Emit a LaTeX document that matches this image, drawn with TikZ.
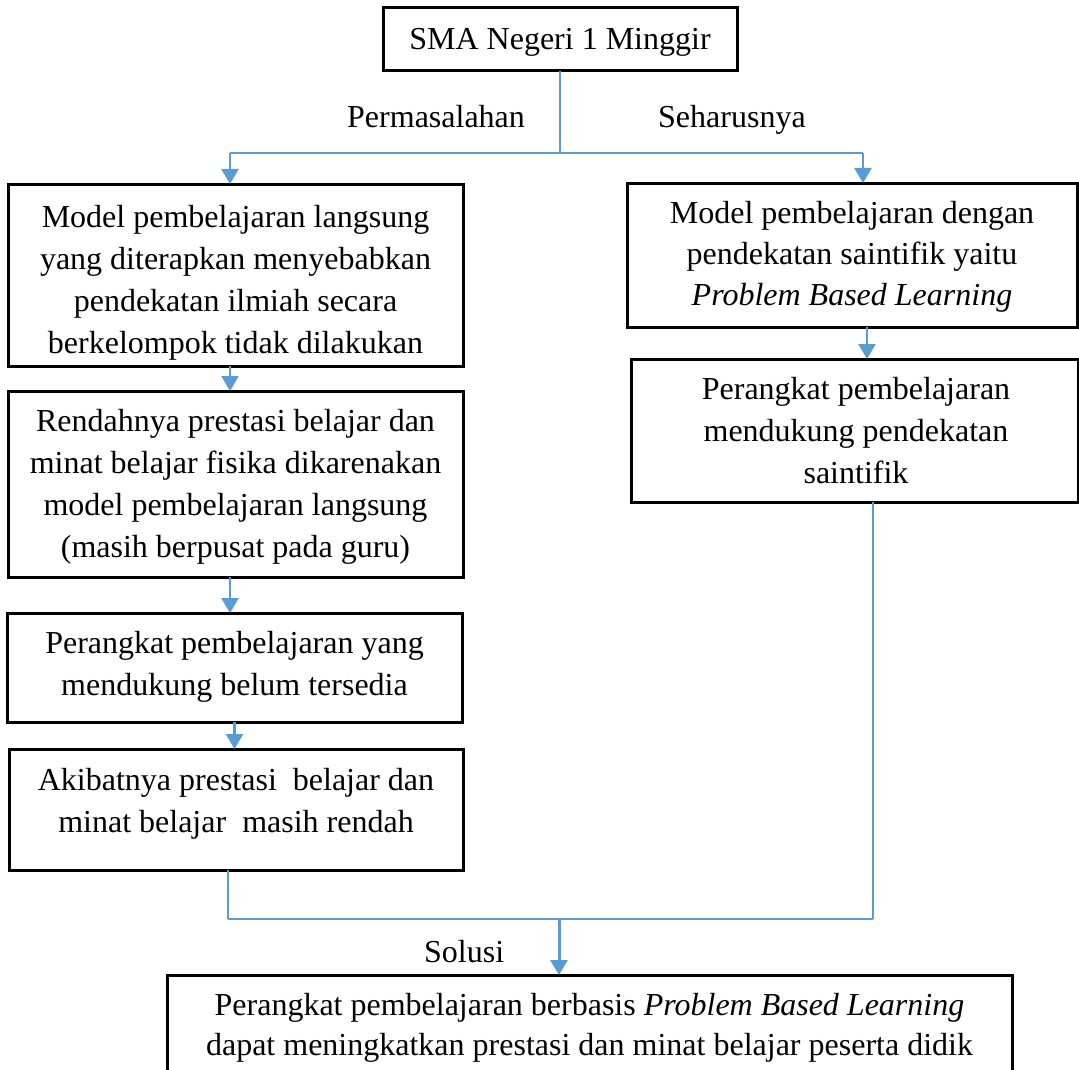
\documentclass[tikz,border=0pt]{standalone}
\usepackage{fontspec}
\setmainfont{Liberation Serif}
\usetikzlibrary{arrows.meta,calc}
\definecolor{conn}{HTML}{5B9BD5}
\begin{document}
\begin{tikzpicture}[x=1pt,y=-1pt,
  box/.style={draw=black,line width=3pt,inner sep=0pt,outer sep=0pt,anchor=north west},
  txt/.style={inner sep=0pt,align=center,anchor=base,font=\fontsize{32}{42}\selectfont},
  thinline/.style={draw=conn,line width=1.4pt},
  arr/.style={draw=conn,line width=2.6pt,-{Triangle[length=15pt,width=17pt]}},
  lbl/.style={inner sep=0pt,anchor=base west,font=\fontsize{32}{42}\selectfont}]
\useasboundingbox (0,0) rectangle (1079,1070);

% boxes
\node[box,minimum width=354pt,minimum height=63pt] (top) at (383,8) {};
\node[box,minimum width=455pt,minimum height=182pt] (L1) at (8,184) {};
\node[box,minimum width=455pt,minimum height=186pt] (L2) at (8,391) {};
\node[box,minimum width=455pt,minimum height=109pt] (L3) at (7,613) {};
\node[box,minimum width=454pt,minimum height=121pt] (L4) at (9,749) {};
\node[box,minimum width=450pt,minimum height=144pt] (R1) at (627,183) {};
\node[box,minimum width=447pt,minimum height=143pt] (R2) at (631,359) {};
\node[box,minimum width=845pt,minimum height=110pt] (B) at (167,975) {};

% texts (anchor=base is the baseline of the last line)
\node[txt] (ttop) at (560,50) {SMA Negeri 1 Minggir};
\begin{scope}
\clip (L1.north west) rectangle (L1.south east);
\node[txt] (t1) at (235.5,353) {Model pembelajaran langsung\\yang diterapkan menyebabkan\\pendekatan ilmiah secara\\berkelompok tidak dilakukan};
\end{scope}
\node[txt] (t2) at (235.5,557) {Rendahnya prestasi belajar dan\\minat belajar fisika dikarenakan\\model pembelajaran langsung\\(masih berpusat pada guru)};
\node[txt] (t3) at (234.5,695) {Perangkat pembelajaran yang\\mendukung belum tersedia};
\node[txt] (t4) at (236,832) {Akibatnya prestasi\ \ belajar dan\\minat belajar\ \ masih rendah};
\node[txt,font=\fontsize{32}{41}\selectfont] (tr1) at (852,305) {Model pembelajaran dengan\\pendekatan saintifik yaitu\\\textit{Problem Based Learning}};
\node[txt] (tr2) at (856,483) {Perangkat pembelajaran\\mendukung pendekatan\\saintifik};
\node[txt,font=\fontsize{32}{40}\selectfont] (tb) at (589.5,1055) {Perangkat pembelajaran berbasis \textit{Problem Based Learning}\\dapat meningkatkan prestasi dan minat belajar peserta didik};

% labels
\node[lbl] (perm) at (347,128) {Permasalahan};
\node[lbl] (seha) at (658,128) {Seharusnya};
\node[lbl] (solu) at (424,962) {Solusi};

% connectors
\path (top.south) ++(0,82) coordinate (j1);
\coordinate (jl) at (230,153);
\coordinate (jr) at (863,153);
\coordinate (rc) at (867,340);
\coordinate (jb) at (559,919);
\coordinate (bl) at (228,919);
\coordinate (br) at (873,919);

\draw[thinline] (top.south) -- (j1);
\draw[thinline] (jl) -- (jr);
\draw[arr] (jl) -- (jl |- L1.north);
\draw[arr] (jr) -- (jr |- R1.north);
\draw[arr] (L1.south -| jl) -- (L2.north -| jl);
\draw[arr] (L2.south -| jl) -- (L3.north -| jl);
\draw[arr] (L3.south) -- (L3.south |- L4.north);
\draw[arr] (R1.south -| rc) -- (R2.north -| rc);
\draw[thinline] (L4.south -| bl) -- (bl);
\draw[thinline] (R2.south -| br) -- (br);
\draw[thinline] (bl) -- (br);
\draw[arr,line width=3pt] (jb) -- (jb |- B.north);
\end{tikzpicture}
\end{document}
